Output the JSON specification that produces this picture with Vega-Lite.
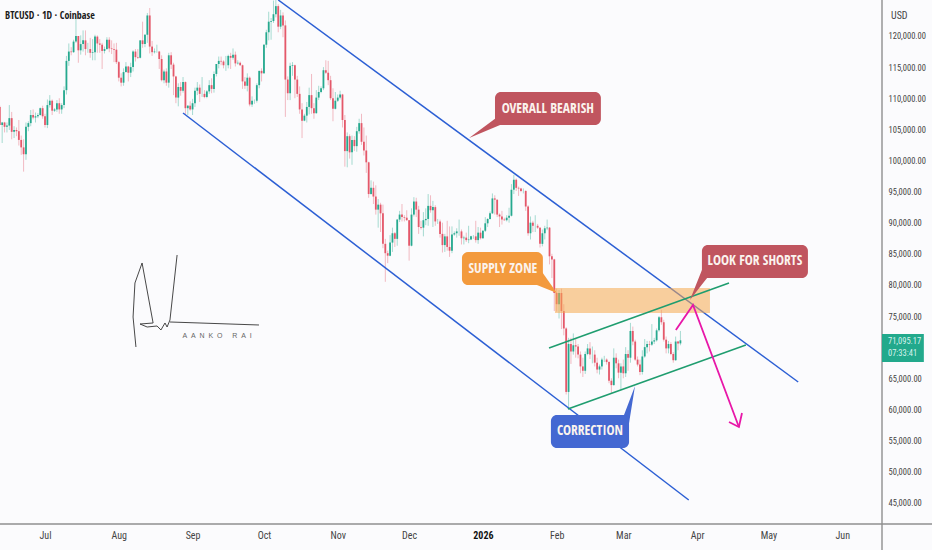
{
  "$schema": "https://vega.github.io/schema/vega-lite/v6.json",
  "description": "BTCUSD daily candles with falling channel, rising channel and supply zone.",
  "width": 882,
  "height": 524,
  "autosize": "none",
  "padding": {"left": 0, "top": 0, "right": 50, "bottom": 26},
  "background": "#fbfbfd",
  "view": {"stroke": null},
  "datasets": {
    "candles": [
      {"date":"2025-06-12","open":108600,"high":108800,"low":105700,"close":105700},
      {"date":"2025-06-13","open":105700,"high":106200,"low":102800,"close":106100},
      {"date":"2025-06-14","open":106100,"high":106200,"low":104500,"close":105400},
      {"date":"2025-06-15","open":105400,"high":106100,"low":104500,"close":105600},
      {"date":"2025-06-16","open":105600,"high":108900,"low":104900,"close":106800},
      {"date":"2025-06-17","open":106800,"high":107800,"low":103400,"close":104600},
      {"date":"2025-06-18","open":104600,"high":105500,"low":103600,"close":104900},
      {"date":"2025-06-19","open":104900,"high":105300,"low":103900,"close":104700},
      {"date":"2025-06-20","open":104700,"high":106500,"low":102400,"close":103300},
      {"date":"2025-06-21","open":103300,"high":104000,"low":100900,"close":102100},
      {"date":"2025-06-22","open":102100,"high":103400,"low":98200,"close":101000},
      {"date":"2025-06-23","open":101000,"high":106100,"low":100100,"close":105400},
      {"date":"2025-06-24","open":105400,"high":106300,"low":104700,"close":106000},
      {"date":"2025-06-25","open":106000,"high":108100,"low":105500,"close":107300},
      {"date":"2025-06-26","open":107300,"high":108200,"low":106600,"close":106900},
      {"date":"2025-06-27","open":106900,"high":107700,"low":106100,"close":107100},
      {"date":"2025-06-28","open":107100,"high":107600,"low":106800,"close":107300},
      {"date":"2025-06-29","open":107300,"high":108500,"low":107200,"close":108400},
      {"date":"2025-06-30","open":108400,"high":108800,"low":106700,"close":107100},
      {"date":"2025-07-01","open":107100,"high":107500,"low":105300,"close":105700},
      {"date":"2025-07-02","open":105700,"high":109800,"low":105200,"close":108900},
      {"date":"2025-07-03","open":108900,"high":110500,"low":108500,"close":109600},
      {"date":"2025-07-04","open":109600,"high":109800,"low":107300,"close":108000},
      {"date":"2025-07-05","open":108000,"high":108400,"low":107800,"close":108200},
      {"date":"2025-07-06","open":108200,"high":109700,"low":107800,"close":109200},
      {"date":"2025-07-07","open":109200,"high":110000,"low":107500,"close":108200},
      {"date":"2025-07-08","open":108200,"high":109200,"low":107500,"close":108900},
      {"date":"2025-07-09","open":108900,"high":111900,"low":108400,"close":111300},
      {"date":"2025-07-10","open":111300,"high":116800,"low":110600,"close":116000},
      {"date":"2025-07-11","open":116000,"high":118800,"low":115200,"close":117500},
      {"date":"2025-07-12","open":117500,"high":118200,"low":116900,"close":117400},
      {"date":"2025-07-13","open":117400,"high":119400,"low":117300,"close":119100},
      {"date":"2025-07-14","open":119100,"high":123200,"low":118900,"close":120000},
      {"date":"2025-07-15","open":120000,"high":120000,"low":115700,"close":117700},
      {"date":"2025-07-16","open":117700,"high":120100,"low":117000,"close":118700},
      {"date":"2025-07-17","open":118700,"high":120900,"low":117500,"close":119300},
      {"date":"2025-07-18","open":119300,"high":120900,"low":116900,"close":117900},
      {"date":"2025-07-19","open":117900,"high":118900,"low":117300,"close":117900},
      {"date":"2025-07-20","open":117900,"high":119700,"low":116500,"close":117300},
      {"date":"2025-07-21","open":117300,"high":119500,"low":116100,"close":117400},
      {"date":"2025-07-22","open":117400,"high":120200,"low":116100,"close":119900},
      {"date":"2025-07-23","open":119900,"high":120100,"low":117300,"close":118800},
      {"date":"2025-07-24","open":118800,"high":119500,"low":117300,"close":118600},
      {"date":"2025-07-25","open":118600,"high":118900,"low":114700,"close":117600},
      {"date":"2025-07-26","open":117600,"high":118300,"low":117200,"close":117900},
      {"date":"2025-07-27","open":117900,"high":119800,"low":117800,"close":119400},
      {"date":"2025-07-28","open":119400,"high":119800,"low":117400,"close":118000},
      {"date":"2025-07-29","open":118000,"high":119300,"low":117100,"close":117900},
      {"date":"2025-07-30","open":117900,"high":118800,"low":115800,"close":117800},
      {"date":"2025-07-31","open":117800,"high":118900,"low":115500,"close":115800},
      {"date":"2025-08-01","open":115800,"high":116000,"low":112700,"close":113300},
      {"date":"2025-08-02","open":113300,"high":114000,"low":111900,"close":112500},
      {"date":"2025-08-03","open":112500,"high":114800,"low":112000,"close":114200},
      {"date":"2025-08-04","open":114200,"high":115800,"low":114100,"close":115100},
      {"date":"2025-08-05","open":115100,"high":115200,"low":112700,"close":114100},
      {"date":"2025-08-06","open":114100,"high":115700,"low":113400,"close":115000},
      {"date":"2025-08-07","open":115000,"high":117700,"low":114300,"close":117500},
      {"date":"2025-08-08","open":117500,"high":117900,"low":115900,"close":116600},
      {"date":"2025-08-09","open":116600,"high":117900,"low":116300,"close":116500},
      {"date":"2025-08-10","open":116500,"high":119300,"low":116400,"close":119300},
      {"date":"2025-08-11","open":119300,"high":122300,"low":118100,"close":118700},
      {"date":"2025-08-12","open":118700,"high":120300,"low":118200,"close":120200},
      {"date":"2025-08-13","open":120200,"high":123700,"low":118900,"close":123300},
      {"date":"2025-08-14","open":123300,"high":124500,"low":117200,"close":118300},
      {"date":"2025-08-15","open":118300,"high":119200,"low":116800,"close":117400},
      {"date":"2025-08-16","open":117400,"high":118000,"low":117200,"close":117500},
      {"date":"2025-08-17","open":117500,"high":118600,"low":117300,"close":117500},
      {"date":"2025-08-18","open":117500,"high":117600,"low":114700,"close":116300},
      {"date":"2025-08-19","open":116300,"high":116900,"low":112700,"close":112900},
      {"date":"2025-08-20","open":112900,"high":114600,"low":112400,"close":114300},
      {"date":"2025-08-21","open":114300,"high":114800,"low":112000,"close":112500},
      {"date":"2025-08-22","open":112500,"high":117300,"low":111700,"close":116900},
      {"date":"2025-08-23","open":116900,"high":117400,"low":114700,"close":115400},
      {"date":"2025-08-24","open":115400,"high":115700,"low":110500,"close":113500},
      {"date":"2025-08-25","open":113500,"high":113600,"low":109200,"close":110100},
      {"date":"2025-08-26","open":110100,"high":112400,"low":108700,"close":111800},
      {"date":"2025-08-27","open":111800,"high":112600,"low":110400,"close":111200},
      {"date":"2025-08-28","open":111200,"high":113400,"low":110900,"close":112600},
      {"date":"2025-08-29","open":112600,"high":112700,"low":107400,"close":108400},
      {"date":"2025-08-30","open":108400,"high":108900,"low":107300,"close":108800},
      {"date":"2025-08-31","open":108800,"high":109500,"low":108000,"close":108200},
      {"date":"2025-09-01","open":108200,"high":109900,"low":107300,"close":109200},
      {"date":"2025-09-02","open":109200,"high":111700,"low":108600,"close":111200},
      {"date":"2025-09-03","open":111200,"high":112600,"low":110500,"close":111700},
      {"date":"2025-09-04","open":111700,"high":112200,"low":109400,"close":110700},
      {"date":"2025-09-05","open":110700,"high":113400,"low":110200,"close":110700},
      {"date":"2025-09-06","open":110700,"high":111300,"low":110000,"close":110200},
      {"date":"2025-09-07","open":110200,"high":111300,"low":110000,"close":111100},
      {"date":"2025-09-08","open":111100,"high":112900,"low":110700,"close":112100},
      {"date":"2025-09-09","open":112100,"high":113200,"low":110800,"close":111500},
      {"date":"2025-09-10","open":111500,"high":114300,"low":110900,"close":113900},
      {"date":"2025-09-11","open":113900,"high":115500,"low":113500,"close":115500},
      {"date":"2025-09-12","open":115500,"high":116700,"low":114800,"close":116000},
      {"date":"2025-09-13","open":116000,"high":116700,"low":115300,"close":115900},
      {"date":"2025-09-14","open":115900,"high":116100,"low":114800,"close":115300},
      {"date":"2025-09-15","open":115300,"high":116800,"low":114400,"close":115300},
      {"date":"2025-09-16","open":115300,"high":117000,"low":114800,"close":116800},
      {"date":"2025-09-17","open":116800,"high":117300,"low":114700,"close":116500},
      {"date":"2025-09-18","open":116500,"high":118000,"low":116200,"close":117000},
      {"date":"2025-09-19","open":117000,"high":117500,"low":115100,"close":115600},
      {"date":"2025-09-20","open":115600,"high":116100,"low":115400,"close":115700},
      {"date":"2025-09-21","open":115700,"high":115900,"low":115200,"close":115300},
      {"date":"2025-09-22","open":115300,"high":115400,"low":111500,"close":112700},
      {"date":"2025-09-23","open":112700,"high":113400,"low":111500,"close":112000},
      {"date":"2025-09-24","open":112000,"high":114000,"low":111100,"close":113300},
      {"date":"2025-09-25","open":113300,"high":113500,"low":108700,"close":109000},
      {"date":"2025-09-26","open":109000,"high":110300,"low":108600,"close":109600},
      {"date":"2025-09-27","open":109600,"high":109800,"low":109100,"close":109600},
      {"date":"2025-09-28","open":109600,"high":112400,"low":109300,"close":112100},
      {"date":"2025-09-29","open":112100,"high":114400,"low":111600,"close":114400},
      {"date":"2025-09-30","open":114400,"high":114800,"low":112700,"close":114000},
      {"date":"2025-10-01","open":114000,"high":118700,"low":113900,"close":118600},
      {"date":"2025-10-02","open":118600,"high":121000,"low":118100,"close":120600},
      {"date":"2025-10-03","open":120600,"high":123900,"low":119300,"close":122300},
      {"date":"2025-10-04","open":122300,"high":122900,"low":119400,"close":122400},
      {"date":"2025-10-05","open":122400,"high":125700,"low":122100,"close":123500},
      {"date":"2025-10-06","open":123500,"high":126200,"low":123000,"close":124800},
      {"date":"2025-10-07","open":124800,"high":125100,"low":120600,"close":121500},
      {"date":"2025-10-08","open":121500,"high":124200,"low":121100,"close":123300},
      {"date":"2025-10-09","open":123300,"high":123800,"low":119800,"close":121700},
      {"date":"2025-10-10","open":121700,"high":122500,"low":107000,"close":113000},
      {"date":"2025-10-11","open":113000,"high":113500,"low":109700,"close":110800},
      {"date":"2025-10-12","open":110800,"high":115700,"low":109700,"close":115200},
      {"date":"2025-10-13","open":115200,"high":115800,"low":113600,"close":115300},
      {"date":"2025-10-14","open":115300,"high":115400,"low":110000,"close":113000},
      {"date":"2025-10-15","open":113000,"high":113600,"low":110200,"close":110700},
      {"date":"2025-10-16","open":110700,"high":111900,"low":107500,"close":108200},
      {"date":"2025-10-17","open":108200,"high":109200,"low":103600,"close":106400},
      {"date":"2025-10-18","open":106400,"high":107500,"low":106300,"close":107200},
      {"date":"2025-10-19","open":107200,"high":109400,"low":106100,"close":108600},
      {"date":"2025-10-20","open":108600,"high":111700,"low":107400,"close":110500},
      {"date":"2025-10-21","open":110500,"high":113900,"low":107500,"close":108400},
      {"date":"2025-10-22","open":108400,"high":109200,"low":106700,"close":107600},
      {"date":"2025-10-23","open":107600,"high":111300,"low":107500,"close":110100},
      {"date":"2025-10-24","open":110100,"high":112000,"low":109700,"close":111000},
      {"date":"2025-10-25","open":111000,"high":111900,"low":110800,"close":111600},
      {"date":"2025-10-26","open":111600,"high":115000,"low":111300,"close":114500},
      {"date":"2025-10-27","open":114500,"high":116100,"low":113900,"close":114100},
      {"date":"2025-10-28","open":114100,"high":116000,"low":112100,"close":112900},
      {"date":"2025-10-29","open":112900,"high":113600,"low":109700,"close":110000},
      {"date":"2025-10-30","open":110000,"high":111600,"low":106300,"close":108300},
      {"date":"2025-10-31","open":108300,"high":111000,"low":108200,"close":109600},
      {"date":"2025-11-01","open":109600,"high":110600,"low":109400,"close":110100},
      {"date":"2025-11-02","open":110100,"high":111200,"low":109800,"close":110600},
      {"date":"2025-11-03","open":110600,"high":110700,"low":105300,"close":106500},
      {"date":"2025-11-04","open":106500,"high":107300,"low":99000,"close":101500},
      {"date":"2025-11-05","open":101500,"high":104500,"low":98900,"close":103900},
      {"date":"2025-11-06","open":103900,"high":104200,"low":100300,"close":101300},
      {"date":"2025-11-07","open":101300,"high":104000,"low":99300,"close":103300},
      {"date":"2025-11-08","open":103300,"high":103900,"low":101500,"close":102300},
      {"date":"2025-11-09","open":102300,"high":105400,"low":101400,"close":104700},
      {"date":"2025-11-10","open":104700,"high":106700,"low":104300,"close":106000},
      {"date":"2025-11-11","open":106000,"high":107500,"low":102500,"close":103000},
      {"date":"2025-11-12","open":103000,"high":105300,"low":100800,"close":101600},
      {"date":"2025-11-13","open":101600,"high":104000,"low":98000,"close":99700},
      {"date":"2025-11-14","open":99700,"high":99800,"low":94000,"close":94600},
      {"date":"2025-11-15","open":94600,"high":96800,"low":94500,"close":95600},
      {"date":"2025-11-16","open":95600,"high":96600,"low":93000,"close":94200},
      {"date":"2025-11-17","open":94200,"high":96000,"low":91300,"close":92100},
      {"date":"2025-11-18","open":92100,"high":93800,"low":89200,"close":92900},
      {"date":"2025-11-19","open":92900,"high":93200,"low":88500,"close":91500},
      {"date":"2025-11-20","open":91500,"high":92900,"low":85900,"close":86600},
      {"date":"2025-11-21","open":86600,"high":87400,"low":80500,"close":85100},
      {"date":"2025-11-22","open":85100,"high":85500,"low":83500,"close":84700},
      {"date":"2025-11-23","open":84700,"high":88000,"low":84600,"close":86800},
      {"date":"2025-11-24","open":86800,"high":89200,"low":85300,"close":88300},
      {"date":"2025-11-25","open":88300,"high":88500,"low":86100,"close":87400},
      {"date":"2025-11-26","open":87400,"high":90600,"low":86300,"close":90500},
      {"date":"2025-11-27","open":90500,"high":91900,"low":90100,"close":91300},
      {"date":"2025-11-28","open":91300,"high":93000,"low":90200,"close":90900},
      {"date":"2025-11-29","open":90900,"high":91200,"low":90200,"close":90800},
      {"date":"2025-11-30","open":90800,"high":92000,"low":90300,"close":90400},
      {"date":"2025-12-01","open":90400,"high":90400,"low":83900,"close":86300},
      {"date":"2025-12-02","open":86300,"high":92300,"low":86200,"close":91300},
      {"date":"2025-12-03","open":91300,"high":94100,"low":91000,"close":93400},
      {"date":"2025-12-04","open":93400,"high":94000,"low":90900,"close":92100},
      {"date":"2025-12-05","open":92100,"high":92700,"low":88200,"close":89300},
      {"date":"2025-12-06","open":89300,"high":90300,"low":88900,"close":89200},
      {"date":"2025-12-07","open":89200,"high":91700,"low":87800,"close":90400},
      {"date":"2025-12-08","open":90400,"high":92300,"low":89600,"close":90600},
      {"date":"2025-12-09","open":90600,"high":94600,"low":89500,"close":92700},
      {"date":"2025-12-10","open":92700,"high":94400,"low":91600,"close":92000},
      {"date":"2025-12-11","open":92000,"high":93500,"low":89300,"close":92500},
      {"date":"2025-12-12","open":92500,"high":92800,"low":89500,"close":90200},
      {"date":"2025-12-13","open":90200,"high":90600,"low":89800,"close":90200},
      {"date":"2025-12-14","open":90200,"high":90500,"low":87600,"close":88200},
      {"date":"2025-12-15","open":88200,"high":90000,"low":85200,"close":86400},
      {"date":"2025-12-16","open":86400,"high":88200,"low":85300,"close":87800},
      {"date":"2025-12-17","open":87800,"high":90300,"low":85500,"close":86100},
      {"date":"2025-12-18","open":86100,"high":89400,"low":84500,"close":85500},
      {"date":"2025-12-19","open":85500,"high":89400,"low":85100,"close":88100},
      {"date":"2025-12-20","open":88100,"high":88600,"low":87900,"close":88300},
      {"date":"2025-12-21","open":88300,"high":89100,"low":87600,"close":88600},
      {"date":"2025-12-22","open":88600,"high":90500,"low":87900,"close":88600},
      {"date":"2025-12-23","open":88600,"high":88900,"low":86500,"close":87500},
      {"date":"2025-12-24","open":87500,"high":87900,"low":86500,"close":87600},
      {"date":"2025-12-25","open":87600,"high":88400,"low":86900,"close":87200},
      {"date":"2025-12-26","open":87200,"high":89500,"low":86700,"close":87300},
      {"date":"2025-12-27","open":87300,"high":87900,"low":87200,"close":87800},
      {"date":"2025-12-28","open":87800,"high":88000,"low":87400,"close":87800},
      {"date":"2025-12-29","open":87800,"high":90300,"low":86800,"close":87200},
      {"date":"2025-12-30","open":87200,"high":89300,"low":86600,"close":88400},
      {"date":"2025-12-31","open":88400,"high":89200,"low":87300,"close":87500},
      {"date":"2026-01-01","open":87500,"high":88800,"low":87400,"close":88700},
      {"date":"2026-01-02","open":88700,"high":90900,"low":88500,"close":89900},
      {"date":"2026-01-03","open":89900,"high":90700,"low":89300,"close":90600},
      {"date":"2026-01-04","open":90600,"high":91800,"low":90500,"close":91500},
      {"date":"2026-01-05","open":91500,"high":94700,"low":91400,"close":93900},
      {"date":"2026-01-06","open":93900,"high":94400,"low":91300,"close":93700},
      {"date":"2026-01-07","open":93700,"high":93700,"low":90900,"close":91300},
      {"date":"2026-01-08","open":91300,"high":91500,"low":89300,"close":91000},
      {"date":"2026-01-09","open":91000,"high":91900,"low":89700,"close":90500},
      {"date":"2026-01-10","open":90500,"high":90800,"low":90300,"close":90400},
      {"date":"2026-01-11","open":90400,"high":91200,"low":90200,"close":90800},
      {"date":"2026-01-12","open":90800,"high":92400,"low":90000,"close":91100},
      {"date":"2026-01-13","open":91100,"high":96200,"low":91000,"close":95300},
      {"date":"2026-01-14","open":95300,"high":97700,"low":94600,"close":96900},
      {"date":"2026-01-15","open":96900,"high":97100,"low":95100,"close":95600},
      {"date":"2026-01-16","open":95600,"high":95800,"low":94300,"close":95500},
      {"date":"2026-01-17","open":95500,"high":95600,"low":94900,"close":95100},
      {"date":"2026-01-18","open":95100,"high":95500,"low":94700,"close":95100},
      {"date":"2026-01-19","open":95100,"high":95200,"low":91900,"close":92600},
      {"date":"2026-01-20","open":92600,"high":92800,"low":87900,"close":88300},
      {"date":"2026-01-21","open":88300,"high":91000,"low":87300,"close":90000},
      {"date":"2026-01-22","open":90000,"high":90300,"low":88500,"close":89500},
      {"date":"2026-01-23","open":89500,"high":91200,"low":88500,"close":89500},
      {"date":"2026-01-24","open":89500,"high":89800,"low":89000,"close":89200},
      {"date":"2026-01-25","open":89200,"high":89300,"low":86000,"close":86600},
      {"date":"2026-01-26","open":86600,"high":88900,"low":86200,"close":88300},
      {"date":"2026-01-27","open":88300,"high":89500,"low":87300,"close":89100},
      {"date":"2026-01-28","open":89100,"high":90500,"low":88800,"close":89200},
      {"date":"2026-01-29","open":89200,"high":89300,"low":83300,"close":84600},
      {"date":"2026-01-30","open":84600,"high":85000,"low":81100,"close":84100},
      {"date":"2026-01-31","open":84100,"high":84200,"low":75800,"close":78700},
      {"date":"2026-02-01","open":78700,"high":79400,"low":75700,"close":76900},
      {"date":"2026-02-02","open":76900,"high":79200,"low":74600,"close":78700},
      {"date":"2026-02-03","open":78700,"high":79400,"low":72900,"close":75800},
      {"date":"2026-02-04","open":75800,"high":76900,"low":71900,"close":73000},
      {"date":"2026-02-05","open":73000,"high":73200,"low":62400,"close":62800},
      {"date":"2026-02-06","open":62800,"high":71500,"low":60100,"close":70500},
      {"date":"2026-02-07","open":70500,"high":71500,"low":67300,"close":69300},
      {"date":"2026-02-08","open":69300,"high":72200,"low":68800,"close":70300},
      {"date":"2026-02-09","open":70300,"high":71400,"low":68300,"close":70100},
      {"date":"2026-02-10","open":70100,"high":70500,"low":68200,"close":68800},
      {"date":"2026-02-11","open":68800,"high":69300,"low":65800,"close":66900},
      {"date":"2026-02-12","open":66900,"high":68300,"low":65200,"close":66200},
      {"date":"2026-02-13","open":66200,"high":69300,"low":65700,"close":68900},
      {"date":"2026-02-14","open":68900,"high":70500,"low":68700,"close":69800},
      {"date":"2026-02-15","open":69800,"high":70800,"low":68100,"close":68800},
      {"date":"2026-02-16","open":68800,"high":70100,"low":67400,"close":68800},
      {"date":"2026-02-17","open":68800,"high":69500,"low":66900,"close":67500},
      {"date":"2026-02-18","open":67500,"high":68300,"low":65800,"close":66400},
      {"date":"2026-02-19","open":66400,"high":67200,"low":65600,"close":66900},
      {"date":"2026-02-20","open":66900,"high":68300,"low":66400,"close":68000},
      {"date":"2026-02-21","open":68000,"high":68600,"low":67600,"close":68000},
      {"date":"2026-02-22","open":68000,"high":68200,"low":67200,"close":67600},
      {"date":"2026-02-23","open":67600,"high":67800,"low":64200,"close":64600},
      {"date":"2026-02-24","open":64600,"high":65000,"low":62500,"close":63900},
      {"date":"2026-02-25","open":63900,"high":69800,"low":63800,"close":68300},
      {"date":"2026-02-26","open":68300,"high":69000,"low":66600,"close":67400},
      {"date":"2026-02-27","open":67400,"high":68000,"low":65000,"close":65900},
      {"date":"2026-02-28","open":65900,"high":67400,"low":63100,"close":66900},
      {"date":"2026-03-01","open":66900,"high":68000,"low":65000,"close":65800},
      {"date":"2026-03-02","open":65800,"high":70000,"low":65200,"close":68900},
      {"date":"2026-03-03","open":68900,"high":69500,"low":66200,"close":68300},
      {"date":"2026-03-04","open":68300,"high":73900,"low":67500,"close":72600},
      {"date":"2026-03-05","open":72600,"high":73300,"low":70300,"close":70900},
      {"date":"2026-03-06","open":70900,"high":71200,"low":67800,"close":68000},
      {"date":"2026-03-07","open":68000,"high":68500,"low":66900,"close":67200},
      {"date":"2026-03-08","open":67200,"high":68000,"low":65500,"close":66000},
      {"date":"2026-03-09","open":66000,"high":69500,"low":65600,"close":68500},
      {"date":"2026-03-10","open":68500,"high":71300,"low":68300,"close":70000},
      {"date":"2026-03-11","open":70000,"high":71000,"low":69000,"close":70500},
      {"date":"2026-03-12","open":70500,"high":71000,"low":69300,"close":70400},
      {"date":"2026-03-13","open":70400,"high":73700,"low":70200,"close":70900},
      {"date":"2026-03-14","open":70900,"high":71500,"low":70500,"close":71100},
      {"date":"2026-03-15","open":71100,"high":73000,"low":70900,"close":72700},
      {"date":"2026-03-16","open":72700,"high":75000,"low":72500,"close":74800},
      {"date":"2026-03-17","open":74800,"high":76000,"low":73600,"close":74000},
      {"date":"2026-03-18","open":74000,"high":74400,"low":70900,"close":71200},
      {"date":"2026-03-19","open":71200,"high":71700,"low":69000,"close":69800},
      {"date":"2026-03-20","open":69800,"high":71000,"low":69000,"close":70500},
      {"date":"2026-03-21","open":70500,"high":70800,"low":68700,"close":68900},
      {"date":"2026-03-22","open":68900,"high":69200,"low":67500,"close":67900},
      {"date":"2026-03-23","open":67900,"high":71700,"low":67800,"close":70900},
      {"date":"2026-03-24","open":70900,"high":71000,"low":69500,"close":70600},
      {"date":"2026-03-25","open":70600,"high":72600,"low":70300,"close":71095.17}
    ],
    "channel": [
      {"part":"upper","date":"2025-10-07T00:00:00Z","price":125785},
      {"part":"upper","date":"2026-05-13T12:00:00Z","price":64398},
      {"part":"lower","date":"2025-08-28T00:00:00Z","price":107626},
      {"part":"lower","date":"2026-03-28T12:00:00Z","price":45435}
    ],
    "rising": [
      {"part":"upper","date":"2026-01-28T19:00:00Z","price":69862},
      {"part":"upper","date":"2026-04-14T10:00:00Z","price":80307},
      {"part":"lower","date":"2026-02-05T17:00:00Z","price":60059},
      {"part":"lower","date":"2026-04-21T12:00:00Z","price":70344}
    ],
    "arrow": [
      {"part":"shaft","i":1,"date":"2026-03-23T02:00:00Z","price":72754},
      {"part":"shaft","i":2,"date":"2026-03-30T07:00:00Z","price":76772},
      {"part":"shaft","i":3,"date":"2026-04-18T14:00:00Z","price":57166},
      {"part":"head","i":1,"date":"2026-04-14T10:00:00Z","price":57970},
      {"part":"head","i":2,"date":"2026-04-18T14:00:00Z","price":57166},
      {"part":"head","i":3,"date":"2026-04-19T21:00:00Z","price":59416}
    ],
    "signature": [
      {"part":"pen","i":1,"date":"2025-08-08T05:00:00Z","price":70022},
      {"part":"pen","i":2,"date":"2025-08-07T00:00:00Z","price":74843},
      {"part":"pen","i":3,"date":"2025-08-07T19:00:00Z","price":80307},
      {"part":"pen","i":4,"date":"2025-08-10T19:00:00Z","price":83521},
      {"part":"pen","i":5,"date":"2025-08-15T10:00:00Z","price":73879},
      {"part":"pen","i":6,"date":"2025-08-09T22:00:00Z","price":73718},
      {"part":"pen","i":7,"date":"2025-08-12T22:00:00Z","price":73236},
      {"part":"pen","i":8,"date":"2025-08-17T02:00:00Z","price":73397},
      {"part":"pen","i":9,"date":"2025-08-18T17:00:00Z","price":72754},
      {"part":"pen","i":10,"date":"2025-08-20T10:00:00Z","price":73879},
      {"part":"pen","i":11,"date":"2025-08-21T07:00:00Z","price":73236},
      {"part":"pen","i":12,"date":"2025-08-22T12:00:00Z","price":74361},
      {"part":"pen","i":13,"date":"2025-08-25T12:00:00Z","price":84807},
      {"part":"under","i":1,"date":"2025-08-22T12:00:00Z","price":74040},
      {"part":"under","i":2,"date":"2025-09-28T22:00:00Z","price":73558}
    ],
    "boxes": [
      {"label":"OVERALL BEARISH","date":"2026-01-06T02:00:00Z","date2":"2026-02-19T14:00:00Z","price":111001,"price2":105698},
      {"label":"SUPPLY ZONE","date":"2025-12-23T05:00:00Z","date2":"2026-01-26T05:00:00Z","price":85289,"price2":79986},
      {"label":"LOOK FOR SHORTS","date":"2026-04-03T01:00:00Z","date2":"2026-05-17T14:00:00Z","price":86414,"price2":81111},
      {"label":"CORRECTION","date":"2026-01-29T14:00:00Z","date2":"2026-03-03T10:00:00Z","price":59095,"price2":53792}
    ],
    "tails": [
      {"label":"OVERALL BEARISH","date":"2025-12-26T05:00:00Z","price":103609,"price2":103609},
      {"label":"OVERALL BEARISH","date":"2026-01-08T05:00:00Z","price":107305,"price2":105698},
      {"label":"SUPPLY ZONE","date":"2026-01-22T22:00:00Z","price":83682,"price2":80114},
      {"label":"SUPPLY ZONE","date":"2026-02-01T02:00:00Z","price":78700,"price2":78700},
      {"label":"LOOK FOR SHORTS","date":"2026-03-29T00:00:00Z","price":77575,"price2":77575},
      {"label":"LOOK FOR SHORTS","date":"2026-04-03T01:00:00Z","price":82396,"price2":80067},
      {"label":"LOOK FOR SHORTS","date":"2026-04-05T05:00:00Z","price":82396,"price2":81111},
      {"label":"CORRECTION","date":"2026-03-01T07:00:00Z","price":59095,"price2":57488},
      {"label":"CORRECTION","date":"2026-03-03T10:00:00Z","price":61216,"price2":57809},
      {"label":"CORRECTION","date":"2026-03-05T22:00:00Z","price":63755,"price2":63755}
    ],
    "labels": [
      {"label":"OVERALL BEARISH","date":"2026-01-28T07:00:00Z","price":108349},
      {"label":"SUPPLY ZONE","date":"2026-01-09T10:00:00Z","price":82557},
      {"label":"LOOK FOR SHORTS","date":"2026-04-25T07:00:00Z","price":83842},
      {"label":"CORRECTION","date":"2026-02-15T00:00:00Z","price":56523}
    ]
  },
  "encoding": {
    "x": {
      "field": "date",
      "type": "temporal",
      "scale": {"type": "utc", "domain": ["2025-06-12T02:00:00Z", "2026-06-17T17:00:00Z"], "padding": 0},
      "axis": {
        "title": null,
        "orient": "bottom",
        "grid": false,
        "domain": false,
        "ticks": false,
        "tickCount": "month",
        "labelExpr": "utcmonth(datum.value) === 0 ? utcFormat(datum.value, '%Y') : utcFormat(datum.value, '%b')",
        "labelFont": "Roboto Condensed",
        "labelFontSize": 10,
        "labelFontWeight": {"expr": "utcmonth(datum.value) === 0 ? 'bold' : 'normal'"},
        "labelColor": {"expr": "utcmonth(datum.value) === 0 ? '#111111' : '#444444'"},
        "labelPadding": 6,
        "labelOverlap": false,
        "labelFlush": false
      }
    },
    "y": {
      "field": "price",
      "type": "quantitative",
      "scale": {"domain": [41578, 125785], "nice": false, "zero": false},
      "axis": {
        "title": null,
        "orient": "right",
        "grid": false,
        "domain": false,
        "ticks": false,
        "values": [45000, 50000, 55000, 60000, 65000, 75000, 80000, 85000, 90000, 95000, 100000, 105000, 110000, 115000, 120000],
        "format": ",.2f",
        "labelFont": "Roboto Condensed",
        "labelFontSize": 8.5,
        "labelColor": "#444444",
        "labelPadding": 6,
        "labelOverlap": false,
        "labelFlush": false
      }
    }
  },
  "layer": [
    {
      "data": {"name": "candles"},
      "mark": {"type": "rule", "strokeWidth": 1, "opacity": 0.4},
      "encoding": {
        "y": {"field": "high", "type": "quantitative", "scale": {"domain": [41578, 125785], "nice": false, "zero": false}, "axis": {"title": null, "orient": "right", "grid": false, "domain": false, "ticks": false, "values": [45000, 50000, 55000, 60000, 65000, 75000, 80000, 85000, 90000, 95000, 100000, 105000, 110000, 115000, 120000], "format": ",.2f", "labelFont": "Roboto Condensed", "labelFontSize": 8.5, "labelColor": "#444444", "labelPadding": 6, "labelOverlap": false, "labelFlush": false}},
        "y2": {"field": "low"},
        "color": {"condition": {"test": "datum.close >= datum.open", "value": "#26a98f"}, "value": "#e4586a"}
      }
    },
    {
      "data": {"name": "candles"},
      "mark": {"type": "bar", "orient": "vertical", "width": 1.8},
      "encoding": {
        "y": {"field": "open", "type": "quantitative", "scale": {"domain": [41578, 125785], "nice": false, "zero": false}, "axis": {"title": null, "orient": "right", "grid": false, "domain": false, "ticks": false, "values": [45000, 50000, 55000, 60000, 65000, 75000, 80000, 85000, 90000, 95000, 100000, 105000, 110000, 115000, 120000], "format": ",.2f", "labelFont": "Roboto Condensed", "labelFontSize": 8.5, "labelColor": "#444444", "labelPadding": 6, "labelOverlap": false, "labelFlush": false}},
        "y2": {"field": "close"},
        "color": {"condition": {"test": "datum.close >= datum.open", "value": "#26a98f"}, "value": "#e4586a"}
      }
    },
    {
      "data": {"name": "channel"},
      "mark": {"type": "line", "color": "#2c5fd4", "strokeWidth": 1.5},
      "encoding": {"detail": {"field": "part"}}
    },
    {
      "data": {"values": [{"date": "2026-01-31T07:00:00Z", "date2": "2026-04-06T10:00:00Z", "price": 79504, "price2": 75486}]},
      "mark": {"type": "rect", "color": "#f6a94f", "opacity": 0.55},
      "encoding": {"x2": {"field": "date2"}, "y2": {"field": "price2"}}
    },
    {
      "data": {"name": "rising"},
      "mark": {"type": "line", "color": "#1f9d6f", "strokeWidth": 1.6},
      "encoding": {"detail": {"field": "part"}}
    },
    {
      "data": {"name": "arrow"},
      "mark": {"type": "line", "color": "#e817a8", "strokeWidth": 1.8},
      "encoding": {"detail": {"field": "part"}, "order": {"field": "i"}}
    },
    {
      "data": {"name": "signature"},
      "mark": {"type": "line", "color": "#333333", "strokeWidth": 0.9},
      "encoding": {"detail": {"field": "part"}, "order": {"field": "i"}}
    },
    {
      "data": {"name": "tails"},
      "mark": {"type": "area", "orient": "vertical"},
      "encoding": {
        "y2": {"field": "price2"},
        "detail": {"field": "label"},
        "color": {
          "field": "label",
          "scale": {"domain": ["OVERALL BEARISH", "LOOK FOR SHORTS", "SUPPLY ZONE", "CORRECTION"], "range": ["#c0555f", "#c0555f", "#f39a3d", "#4468d2"]},
          "legend": null
        }
      }
    },
    {
      "data": {"name": "boxes"},
      "mark": {"type": "rect", "cornerRadius": 6},
      "encoding": {
        "x2": {"field": "date2"},
        "y2": {"field": "price2"},
        "color": {"field": "label", "legend": null}
      }
    },
    {
      "data": {"name": "labels"},
      "mark": {"type": "text", "font": "Open Sans Condensed", "fontSize": 13.5, "fontWeight": "bold", "color": "#fbf3ee", "align": "center", "baseline": "middle"},
      "encoding": {"text": {"field": "label"}}
    },
    {
      "data": {"values": [{"date": "2025-09-11T07:00:00Z", "price": 71790, "note": "A\u00a0\u00a0A\u00a0\u00a0N\u00a0\u00a0K\u00a0\u00a0O\u00a0\u00a0\u00a0\u00a0\u00a0R\u00a0\u00a0A\u00a0\u00a0I"}]},
      "mark": {"type": "text", "font": "Liberation Sans", "fontSize": 7, "color": "#666666", "align": "center", "baseline": "middle"},
      "encoding": {"text": {"field": "note"}}
    },
    {
      "data": {"values": [{"date": "2025-06-14T05:00:00Z", "price": 123214, "note": "BTCUSD · 1D · Coinbase"}]},
      "mark": {"type": "text", "font": "Open Sans Condensed", "fontSize": 10, "fontWeight": "bold", "color": "#1a1a1a", "align": "left", "baseline": "middle"},
      "encoding": {"text": {"field": "note"}}
    },
    {
      "data": {"values": [{"date": "2026-06-21T12:00:00Z", "price": 123214, "note": "USD"}]},
      "mark": {"type": "text", "font": "Roboto Condensed", "fontSize": 10, "color": "#444444", "align": "left", "baseline": "middle"},
      "encoding": {"text": {"field": "note"}}
    },
    {
      "data": {"values": [
        {"date": "2026-06-17T17:00:00Z", "price": 125785, "price2": 37400},
        {"date": "2025-06-12T02:00:00Z", "date2": "2026-07-12T00:00:00Z", "price": 41578}
      ]},
      "mark": {"type": "rule", "color": "#8f8f8f", "strokeWidth": 1.4},
      "encoding": {"x2": {"field": "date2"}, "y2": {"field": "price2"}}
    },
    {
      "data": {"values": [{"date": "2026-06-17T17:00:00Z", "date2": "2026-07-05T07:00:00Z", "price": 72111, "price2": 67612}]},
      "mark": {"type": "rect", "color": "#22a98c"},
      "encoding": {"x2": {"field": "date2"}, "y2": {"field": "price2"}}
    },
    {
      "data": {"values": [
        {"date": "2026-06-20T05:00:00Z", "price": 70987, "note": "71,095.17"},
        {"date": "2026-06-20T05:00:00Z", "price": 69058, "note": "07:33:41"}
      ]},
      "mark": {"type": "text", "font": "Roboto Condensed", "fontSize": 8.5, "color": "#d7f3ec", "align": "left", "baseline": "middle"},
      "encoding": {"text": {"field": "note"}}
    }
  ]
}
